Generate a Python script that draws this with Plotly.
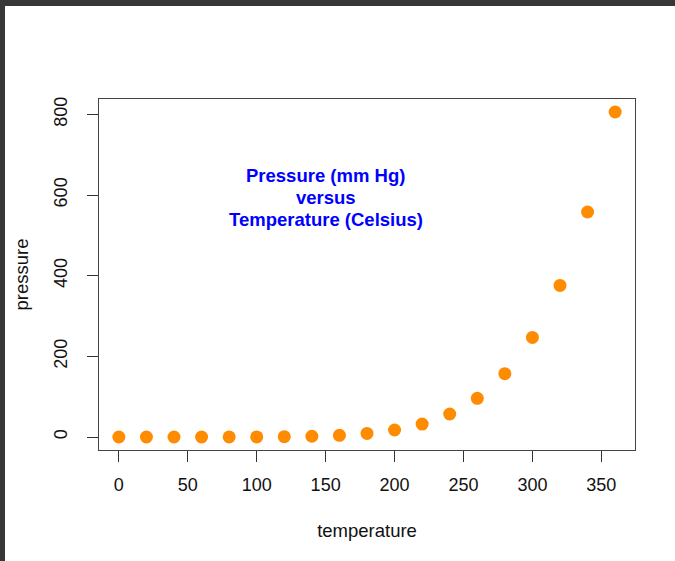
import plotly.graph_objects as go

temperature = [0, 20, 40, 60, 80, 100, 120, 140, 160, 180, 200, 220, 240, 260, 280, 300, 320, 340, 360]
pressure = [0.0002, 0.0012, 0.006, 0.03, 0.09, 0.27, 0.75, 1.85, 4.2, 8.8, 17.3, 32.1, 57.0, 96.0,
            157.0, 247.0, 376.0, 558.0, 806.0]
x_ticks = [0, 50, 100, 150, 200, 250, 300, 350]
y_ticks = [0, 200, 400, 600, 800]
note_lines = ["Pressure (mm Hg)", "versus", "Temperature (Celsius)"]

W, H = 675, 561
ml, mr, mt, mb = 99, 40, 99, 111
pw, ph = W - ml - mr, H - mt - mb

font = "Liberation Sans, Arial, sans-serif"

fig = go.Figure()
fig.add_trace(go.Scatter(
    x=temperature, y=pressure, mode="markers",
    marker=dict(color="#FF8C00", size=13, line=dict(width=0)),
    showlegend=False, hoverinfo="x+y"))

def px_to_paper_x(p):
    return (p - ml) / pw

def px_to_paper_y(p):
    return (H - mb - p) / ph

fig.add_shape(type="rect", xref="paper", yref="paper",
              x0=px_to_paper_x(5), x1=px_to_paper_x(W + 5),
              y0=px_to_paper_y(H + 5), y1=px_to_paper_y(6),
              fillcolor="white", line=dict(width=0), layer="below")

line_gap = 22
for i, line in enumerate(note_lines):
    fig.add_annotation(x=150, y=594, xref="x", yref="y", text=line,
                       showarrow=False, align="center",
                       yshift=(1 - i) * line_gap,
                       font=dict(family=font, size=18.5, color="#0000FF", weight="bold"))

axis_common = dict(showgrid=False, zeroline=False, showline=True, linecolor="#444",
                   linewidth=1, mirror=True, ticks="outside", ticklen=11,
                   tickcolor="#333", tickwidth=1,
                   tickfont=dict(family=font, size=18, color="#111"),
                   title_font=dict(family=font, size=18.5, color="#111"))

fig.update_xaxes(range=[-14.4, 374.4], tickvals=x_ticks, ticktext=[str(v) for v in x_ticks],
                 title_text="temperature", title_standoff=30, ticklabelstandoff=7,
                 **axis_common)
fig.update_yaxes(range=[-32.24, 838.24], tickvals=y_ticks, ticktext=[str(v) for v in y_ticks],
                 tickangle=-90, title_text="pressure", title_standoff=17, ticklabelstandoff=13,
                 **axis_common)

fig.update_layout(width=W, height=H, margin=dict(l=ml, r=mr, t=mt, b=mb),
                  paper_bgcolor="#373737", plot_bgcolor="white",
                  font=dict(family=font))

fig.write_html("out.html", config={"displayModeBar": False},
               post_script="document.body.style.margin='0';document.body.style.overflow='hidden';")
